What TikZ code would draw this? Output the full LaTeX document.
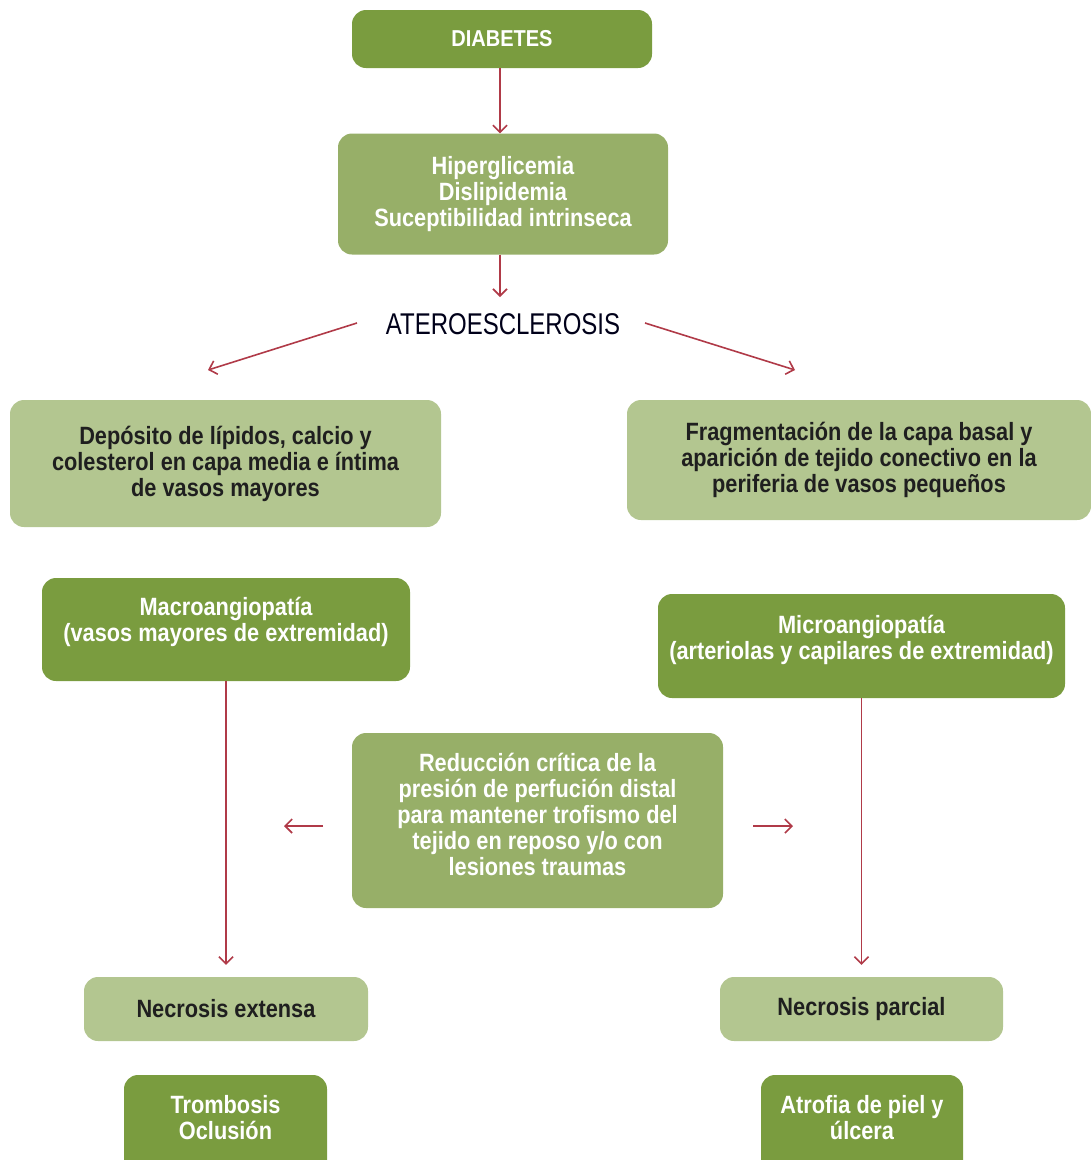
\documentclass[tikz,border=0pt]{standalone}
\usepackage{fontspec}
\setmainfont[FakeStretch=0.87]{Liberation Sans}
\newfontfamily\atefont[FakeStretch=0.8]{Liberation Sans}
\usetikzlibrary{arrows.meta}
\definecolor{dkg}{HTML}{7A9C3F}
\definecolor{mdg}{HTML}{97AF68}
\definecolor{ltg}{HTML}{B3C690}
\definecolor{arrc}{HTML}{B03A48}
\begin{document}
\begin{tikzpicture}[x=1pt,y=-1pt,
  box/.style={rounded corners=14pt, align=center, inner sep=0pt,
    font=\fontsize{25}{26}\selectfont\bfseries},
  dark/.style={box, fill=dkg, text=white},
  med/.style={box, fill=mdg, text=white},
  light/.style={box, fill=ltg, text=black!88},
  conn/.style={draw=arrc, line width=1.6pt, -{Straight Barb[length=7pt,width=14pt]}}]
\useasboundingbox (0,0) rectangle (1091,1160);
\clip (0,0) rectangle (1091,1160);

\node[dark, minimum width=300pt, minimum height=58pt, font=\fontsize{23}{26}\selectfont\bfseries] (dia) at (502,39) {DIABETES};
\node[med, minimum width=330pt, minimum height=121pt] (hip) at (503,194)
  {Hiperglicemia\\Dislipidemia\\Suceptibilidad intrinseca};
\node[font=\atefont\fontsize{30}{32}\selectfont, text=black!90!blue] (ate) at (503,324) {ATEROESCLEROSIS};

\node[light, minimum width=431pt, minimum height=127pt] (dep) at (225.5,463.5)
  {Depósito de lípidos, calcio y\\colesterol en capa media e íntima\\de vasos mayores};
\node[light, minimum width=464pt, minimum height=120pt] (fra) at (859,460)
  {Fragmentación de la capa basal y\\aparición de tejido conectivo en la\\periferia de vasos pequeños};

\node[dark, minimum width=368pt, minimum height=103pt] (mac) at (226,629.5)
  {Macroangiopatía\\(vasos mayores de extremidad)\\[-6pt]};
\node[dark, minimum width=407pt, minimum height=104pt] (mic) at (861.5,646)
  {Microangiopatía\\(arteriolas y capilares de extremidad)\\[-9pt]};

\node[med, minimum width=371pt, minimum height=175pt] (red) at (537.5,820.5)
  {Reducción crítica de la\\presión de perfución distal\\para mantener trofismo del\\tejido en reposo y/o con\\lesiones traumas\\[-14pt]};

\node[light, minimum width=284pt, minimum height=64pt] (nex) at (226,1009) {Necrosis extensa};
\node[light, minimum width=283pt, minimum height=64pt] (npa) at (861.5,1009) {Necrosis parcial};

\node[dark, minimum width=203pt, minimum height=110pt] (tro) at (225.5,1130)
  {Trombosis\\Oclusión\\[-1pt]};
\node[dark, minimum width=202pt, minimum height=110pt] (atr) at (862,1130)
  {Atrofia de piel y\\úlcera\\[-1pt]};

\coordinate (ateL) at (357,323);
\coordinate (ateR) at (645,323);
\coordinate (depT) at (208,370);
\coordinate (fraT) at (795,370);
\coordinate (ateT) at (500,297);
\coordinate (redLs) at (323,826);
\coordinate (redLe) at (284,826);
\coordinate (redRs) at (753,826);
\coordinate (redRe) at (793,826);

\draw[conn] (dia.south -| 500,0) -- (hip.north -| 500,0);
\draw[conn] (hip.south -| 500,0) -- (ateT);
\draw[conn] (ateL) -- (depT);
\draw[conn] (ateR) -- (fraT);
\draw[conn] (mac.south) -- ([yshift=12pt]nex.north);
\draw[conn] (mic.south) -- ([yshift=12pt]npa.north);
\draw[conn] (redLs) -- (redLe);
\draw[conn] (redRs) -- (redRe);
\end{tikzpicture}
\end{document}
